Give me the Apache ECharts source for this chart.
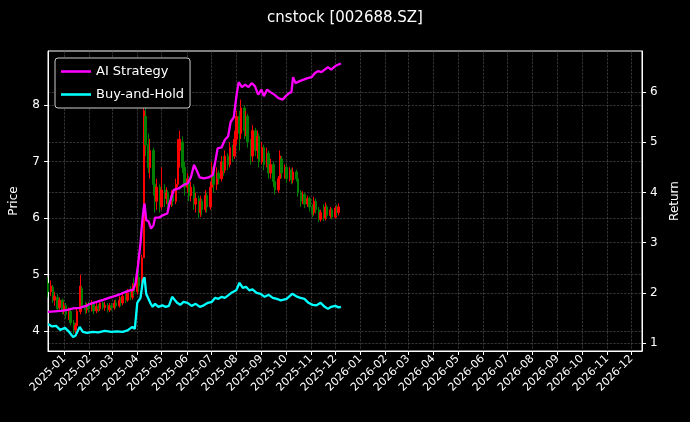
<!DOCTYPE html>
<html lang="en">
<head>
<meta charset="UTF-8">
<title>cnstock</title>
<script src="https://cdn.jsdelivr.net/npm/echarts@6/dist/echarts.min.js"></script>
<style>
  html, body { margin: 0; background: #000; }
  #main { width: 690px; height: 422px; }
</style>
</head>
<body>
<div id="main"></div>
<script>
// candles: [open, close, low, high], one every 2 trading days from 2024-12-12
var candleStart = '2024-12-12';
var candles = [
  [4.85,4.70,4.60,4.95],[4.70,4.80,4.62,4.90],[4.78,4.55,4.50,4.82],[4.55,4.62,4.45,4.70],
  [4.60,4.40,4.35,4.66],[4.42,4.55,4.38,4.60],[4.55,4.38,4.30,4.58],[4.38,4.45,4.30,4.52],
  [4.45,4.30,4.22,4.50],[4.30,4.36,4.20,4.42],[4.35,4.15,4.10,4.38],[4.15,4.02,3.95,4.20],
  [4.02,4.10,3.96,4.15],[4.10,4.35,4.05,4.40],[4.35,4.80,4.30,5.00],[4.75,4.45,4.40,4.80],
  [4.45,4.38,4.30,4.52],[4.38,4.46,4.32,4.50],[4.46,4.40,4.33,4.52],[4.40,4.48,4.35,4.55],
  [4.48,4.36,4.30,4.52],[4.36,4.44,4.32,4.50],[4.44,4.40,4.34,4.48],[4.40,4.50,4.36,4.56],
  [4.50,4.42,4.38,4.55],[4.42,4.46,4.36,4.52],[4.46,4.38,4.33,4.50],[4.38,4.45,4.34,4.50],
  [4.45,4.42,4.36,4.50],[4.42,4.50,4.38,4.55],[4.50,4.45,4.40,4.56],[4.45,4.55,4.42,4.62],
  [4.55,4.50,4.44,4.60],[4.50,4.62,4.46,4.68],[4.62,4.55,4.50,4.70],[4.55,4.68,4.52,4.75],
  [4.68,4.60,4.55,4.80],[4.60,4.75,4.56,4.85],[4.75,4.70,4.62,4.95],[4.70,5.05,4.65,5.25],
  [4.95,4.80,4.70,5.10],[4.80,5.30,4.78,5.35],[5.30,7.90,5.30,8.20],[7.80,7.30,7.10,8.00],
  [7.30,6.90,6.80,7.50],[6.90,7.20,6.70,7.40],[7.20,6.60,6.40,7.25],[6.60,6.30,6.10,6.70],
  [6.30,6.55,6.15,6.70],[6.55,6.20,6.10,6.60],[6.20,6.50,6.15,6.90],[6.50,6.35,6.20,6.60],
  [6.35,6.45,6.25,6.55],[6.45,6.25,6.15,6.50],[6.25,6.40,6.20,6.50],[6.40,6.30,6.22,6.48],
  [6.30,6.60,6.25,6.70],[6.60,7.20,6.55,7.40],[7.20,7.40,6.90,7.55],[7.35,6.90,6.80,7.45],
  [6.90,6.55,6.40,7.00],[6.55,6.70,6.45,6.80],[6.70,6.40,6.30,6.75],[6.40,6.55,6.30,6.65],
  [6.55,6.25,6.15,6.60],[6.25,6.35,6.10,6.45],[6.35,6.10,6.00,6.40],[6.10,6.30,6.02,6.40],
  [6.30,6.15,6.05,6.35],[6.15,6.40,6.10,6.50],[6.40,6.20,6.10,6.45],[6.20,6.55,6.15,6.65],
  [6.55,6.90,6.50,7.00],[6.90,6.60,6.45,6.95],[6.60,6.80,6.50,6.90],[6.80,6.70,6.60,6.85],
  [6.70,7.00,6.65,7.10],[7.00,6.85,6.75,7.10],[6.85,7.10,6.80,7.20],[7.10,6.95,6.85,7.15],
  [6.95,7.25,6.90,7.35],[7.25,7.10,7.00,7.30],[7.10,7.40,7.05,7.55],[7.40,7.80,7.30,7.90],
  [7.80,7.50,7.20,7.90],[7.50,7.95,7.40,8.10],[7.95,7.55,7.40,8.00],[7.55,7.80,7.45,7.90],
  [7.80,7.35,7.25,7.85],[7.35,7.10,6.95,7.40],[7.10,7.55,7.00,7.65],[7.55,7.20,7.10,7.60],
  [7.20,7.45,7.05,7.55],[7.45,7.00,6.90,7.50],[7.00,7.25,6.95,7.35],[7.25,6.95,6.85,7.30],
  [6.95,7.15,6.90,7.25],[7.15,6.80,6.70,7.20],[6.80,6.95,6.70,7.05],[6.95,6.65,6.55,7.00],
  [6.65,6.50,6.42,6.70],[6.50,6.70,6.45,6.75],[6.70,7.10,6.65,7.20],[7.05,6.80,6.70,7.10],
  [6.80,6.90,6.70,6.95],[6.90,6.70,6.62,6.95],[6.70,6.85,6.65,6.90],[6.85,6.68,6.60,6.88],
  [6.68,6.82,6.62,6.90],[6.82,6.70,6.65,6.86],[6.70,6.45,6.38,6.72],[6.45,6.30,6.20,6.50],
  [6.30,6.42,6.25,6.48],[6.42,6.25,6.18,6.45],[6.25,6.35,6.20,6.40],[6.35,6.20,6.12,6.38],
  [6.20,6.10,6.02,6.25],[6.10,6.30,6.05,6.38],[6.30,6.15,6.08,6.35],[6.15,5.98,5.93,6.20],
  [5.98,6.10,5.94,6.15],[6.10,6.00,5.95,6.25],[6.00,6.20,5.96,6.28],[6.20,6.05,6.00,6.24],
  [6.05,6.15,6.00,6.20],[6.15,6.02,5.98,6.18],[6.02,6.18,5.99,6.22],[6.18,6.10,6.04,6.24],
  [6.10,6.20,6.05,6.26]
];

var aiDates = ['2024-12-12','2024-12-20','2024-12-28','2025-01-05','2025-01-12','2025-01-20','2025-01-28','2025-02-02','2025-02-10','2025-02-18','2025-02-25','2025-03-05','2025-03-12','2025-03-18','2025-03-23','2025-03-27','2025-03-30','2025-04-02','2025-04-05','2025-04-07','2025-04-09','2025-04-10','2025-04-12','2025-04-15','2025-04-18','2025-04-21','2025-04-23','2025-04-28','2025-05-03','2025-05-08','2025-05-11','2025-05-13','2025-05-16','2025-05-22','2025-05-28','2025-06-02','2025-06-06','2025-06-10','2025-06-13','2025-06-17','2025-06-22','2025-06-28','2025-07-03','2025-07-06','2025-07-09','2025-07-14','2025-07-18','2025-07-22','2025-07-25','2025-07-29','2025-08-01','2025-08-04','2025-08-08','2025-08-12','2025-08-16','2025-08-20','2025-08-24','2025-08-28','2025-09-01','2025-09-04','2025-09-08','2025-09-12','2025-09-17','2025-09-22','2025-09-27','2025-10-01','2025-10-05','2025-10-08','2025-10-10','2025-10-13','2025-10-18','2025-10-23','2025-10-28','2025-11-02','2025-11-06','2025-11-10','2025-11-14','2025-11-18','2025-11-22','2025-11-26','2025-12-01','2025-12-05','2025-12-08'];
var aiReturn = [1.62,1.63,1.64,1.66,1.69,1.70,1.74,1.78,1.82,1.86,1.90,1.94,1.98,2.02,2.05,2.06,2.20,2.55,3.00,3.40,3.70,3.78,3.45,3.42,3.28,3.35,3.50,3.50,3.55,3.58,3.80,3.82,4.05,4.08,4.15,4.18,4.30,4.55,4.45,4.30,4.28,4.30,4.35,4.60,4.88,4.90,5.05,5.12,5.40,5.50,5.90,6.20,6.10,6.15,6.10,6.18,6.12,5.95,6.05,5.92,6.05,6.00,5.95,5.88,5.85,5.92,5.98,6.00,6.30,6.18,6.22,6.25,6.28,6.30,6.38,6.42,6.40,6.45,6.50,6.45,6.52,6.55,6.57];

var bhDates = ['2024-12-12','2024-12-17','2024-12-22','2024-12-27','2025-01-02','2025-01-07','2025-01-12','2025-01-15','2025-01-20','2025-01-24','2025-01-29','2025-02-05','2025-02-12','2025-02-20','2025-02-28','2025-03-07','2025-03-14','2025-03-20','2025-03-26','2025-03-29','2025-04-01','2025-04-05','2025-04-08','2025-04-10','2025-04-12','2025-04-14','2025-04-17','2025-04-20','2025-04-23','2025-04-27','2025-05-02','2025-05-06','2025-05-10','2025-05-14','2025-05-17','2025-05-20','2025-05-24','2025-05-28','2025-06-02','2025-06-07','2025-06-12','2025-06-17','2025-06-22','2025-06-27','2025-07-02','2025-07-06','2025-07-10','2025-07-14','2025-07-18','2025-07-22','2025-07-26','2025-08-01','2025-08-05','2025-08-09','2025-08-13','2025-08-17','2025-08-21','2025-08-26','2025-08-31','2025-09-05','2025-09-10','2025-09-15','2025-09-20','2025-09-25','2025-10-02','2025-10-09','2025-10-14','2025-10-19','2025-10-24','2025-10-29','2025-11-03','2025-11-08','2025-11-13','2025-11-18','2025-11-22','2025-11-26','2025-12-01','2025-12-05','2025-12-08'];
var bhReturn = [1.38,1.33,1.34,1.26,1.30,1.22,1.12,1.15,1.32,1.22,1.20,1.22,1.21,1.24,1.22,1.23,1.22,1.25,1.32,1.28,1.80,1.90,2.25,2.31,1.98,2.00,1.80,1.72,1.78,1.72,1.75,1.72,1.74,1.92,1.86,1.80,1.76,1.82,1.80,1.74,1.78,1.72,1.75,1.80,1.82,1.90,1.88,1.92,1.90,1.95,2.00,2.05,2.20,2.10,2.12,2.05,2.07,2.00,1.98,1.92,1.96,1.90,1.88,1.85,1.88,1.98,1.93,1.90,1.88,1.80,1.76,1.75,1.80,1.72,1.68,1.72,1.74,1.71,1.72];

var priceTicks = [4, 5, 6, 7, 8];
var returnTicks = [1, 2, 3, 4, 5, 6];

// trading-day dates for candles (weekdays, every second one)
function candleDates(start, n) {
  var out = [], d = new Date(start + 'T00:00:00Z'), k = 0;
  while (out.length < n) {
    var w = d.getUTCDay();
    if (w !== 0 && w !== 6) {
      if (k % 2 === 0) out.push(d.toISOString().slice(0, 10));
      k++;
    }
    d.setUTCDate(d.getUTCDate() + 1);
  }
  return out;
}
var cDates = candleDates(candleStart, candles.length);
var candleData = candles.map(function (c, i) { return [cDates[i], c[0], c[1], c[2], c[3]]; });
var aiData = aiDates.map(function (d, i) { return [d, aiReturn[i]]; });
var bhData = bhDates.map(function (d, i) { return [d, bhReturn[i]]; });

var grid = { type: 'dashed', color: '#555', width: 0.6 };
var lineIcon = 'path://M0,0 H30 V2.6 H0 Z';
var chart = echarts.init(document.getElementById('main'));
chart.setOption({
  backgroundColor: '#000',
  animation: false,
  title: { text: 'cnstock [002688.SZ]', left: 'center', top: 6,
    textStyle: { color: '#fff', fontSize: 15, fontWeight: 'normal', fontFamily: 'DejaVu Sans' } },
  legend: {
    orient: 'vertical', left: 55, top: 58, padding: [7, 6, 7, 6], itemGap: 10,
    borderColor: '#ccc', borderWidth: 1, borderRadius: 3, backgroundColor: '#000',
    itemWidth: 30, itemHeight: 3,
    textStyle: { color: '#fff', fontSize: 13, fontFamily: 'DejaVu Sans' },
    data: [{ name: 'AI Strategy', icon: lineIcon }, { name: 'Buy-and-Hold', icon: lineIcon }]
  },
  grid: { left: 48, right: 48, top: 51, bottom: 71, show: true, borderColor: '#fff', borderWidth: 1 },
  xAxis: {
    type: 'time', min: '2024-12-12', max: '2026-12-14',
    minInterval: 28 * 86400000, maxInterval: 31 * 86400000,
    axisLine: { lineStyle: { color: '#fff' } },
    axisTick: { lineStyle: { color: '#fff' }, length: 4 },
    axisLabel: { color: '#fff', rotate: 45, fontSize: 11, fontFamily: 'DejaVu Sans',
      formatter: '{yyyy}-{MM}', showMinLabel: false, showMaxLabel: false, margin: 6 },
    splitLine: { show: true, lineStyle: grid }
  },
  yAxis: [{
    type: 'value', min: 3.65, max: 8.96, name: 'Price', nameLocation: 'middle', nameGap: 28,
    nameTextStyle: { color: '#fff', fontSize: 12, fontFamily: 'DejaVu Sans' },
    axisLine: { show: true, lineStyle: { color: '#fff' } },
    axisTick: { show: true, length: 4, lineStyle: { color: '#fff' }, customValues: priceTicks },
    axisLabel: { color: '#fff', fontSize: 12, fontFamily: 'DejaVu Sans', customValues: priceTicks },
    splitLine: { show: true, lineStyle: grid }
  }, {
    type: 'value', min: 0.84, max: 6.82, name: 'Return', nameLocation: 'middle', nameGap: 26,
    nameTextStyle: { color: '#fff', fontSize: 12, fontFamily: 'DejaVu Sans' },
    axisLine: { show: true, lineStyle: { color: '#fff' } },
    axisTick: { show: true, length: 4, lineStyle: { color: '#fff' }, customValues: returnTicks },
    axisLabel: { color: '#fff', fontSize: 12, fontFamily: 'DejaVu Sans', customValues: returnTicks },
    splitLine: { show: true, lineStyle: grid }
  }],
  series: [{
    type: 'candlestick', name: 'Price', yAxisIndex: 0, barWidth: 2,
    itemStyle: { color: '#ff0000', color0: '#008000', borderColor: '#ff0000', borderColor0: '#008000', borderWidth: 1 },
    data: candleData
  }, {
    type: 'line', name: 'AI Strategy', yAxisIndex: 1, symbol: 'none',
    lineStyle: { color: '#ff00ff', width: 2.3 }, itemStyle: { color: '#ff00ff' },
    data: aiData
  }, {
    type: 'line', name: 'Buy-and-Hold', yAxisIndex: 1, symbol: 'none',
    lineStyle: { color: '#00ffff', width: 2.3 }, itemStyle: { color: '#00ffff' },
    data: bhData
  }]
});
</script>
</body>
</html>
